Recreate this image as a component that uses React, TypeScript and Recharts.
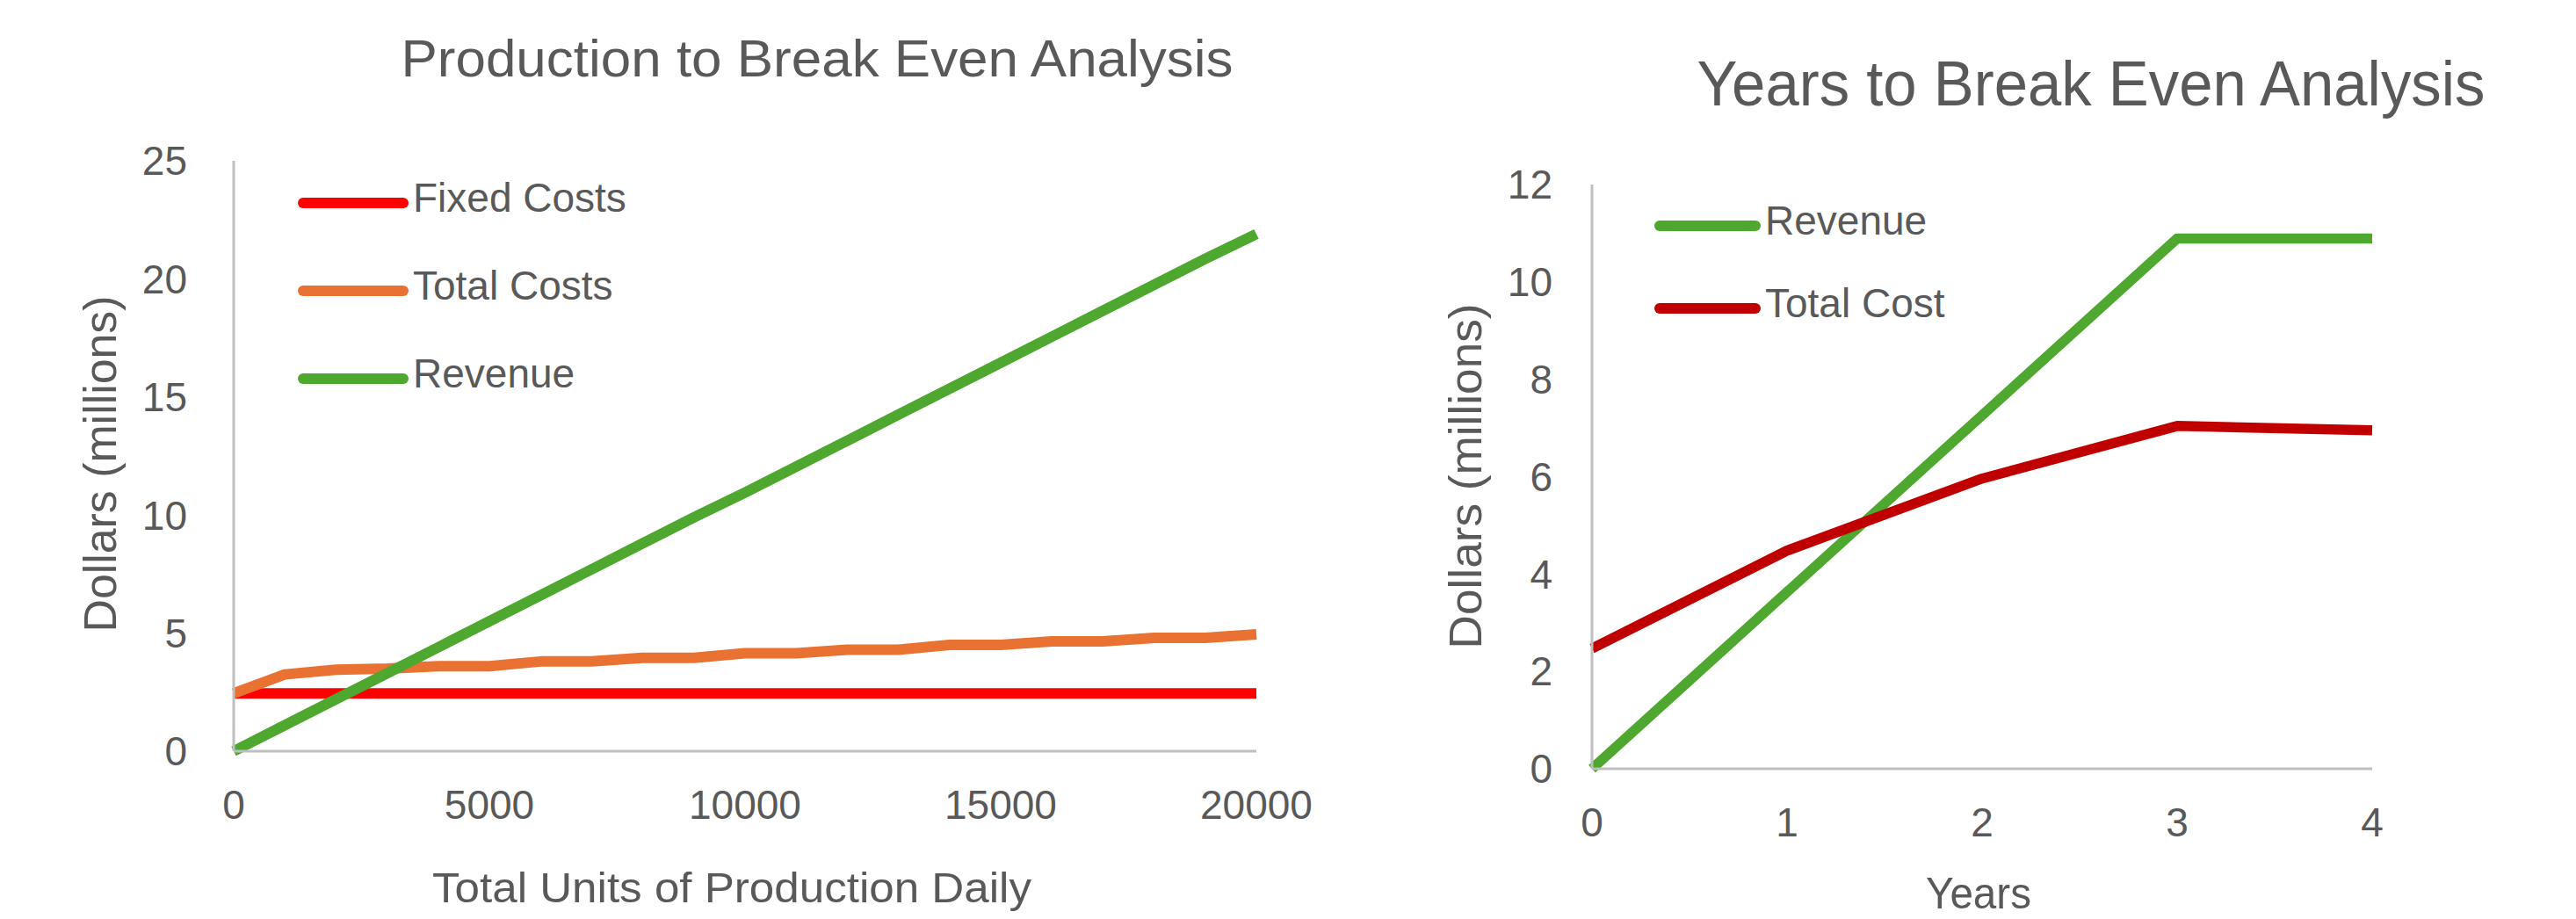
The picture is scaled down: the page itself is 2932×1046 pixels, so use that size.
import { LineChart, Line, XAxis, YAxis, Legend } from "recharts";

// Production break-even (values in $ millions)
const unitsDaily = [
  0, 1000, 2000, 3000, 4000, 5000, 6000, 7000, 8000, 9000, 10000, 11000, 12000,
  13000, 14000, 15000, 16000, 17000, 18000, 19000, 20000,
];
const fixedCosts = [
  2.45, 2.45, 2.45, 2.45, 2.45, 2.45, 2.45, 2.45, 2.45, 2.45, 2.45, 2.45, 2.45,
  2.45, 2.45, 2.45, 2.45, 2.45, 2.45, 2.45, 2.45,
];
const totalCosts = [
  2.45, 3.25, 3.45, 3.5, 3.6, 3.6, 3.8, 3.8, 3.95, 3.95, 4.15, 4.15, 4.3, 4.3,
  4.5, 4.5, 4.65, 4.65, 4.8, 4.8, 4.95,
];
const productionRevenue = [
  0, 1.1, 2.2, 3.3, 4.4, 5.5, 6.6, 7.7, 8.8, 9.9, 10.95, 12.05, 13.15, 14.25,
  15.35, 16.45, 17.55, 18.65, 19.75, 20.85, 21.9,
];
const productionTicksX = [0, 5000, 10000, 15000, 20000];
const productionTicksY = [0, 5, 10, 15, 20, 25];
const productionSeries = ["Fixed Costs", "Total Costs", "Revenue"];

// Years break-even
const years = [0, 1, 2, 3, 4];
const yearRevenue = [0, 3.63, 7.26, 10.89, 10.89];
const yearTotalCost = [2.47, 4.48, 5.96, 7.04, 6.95];
const yearTicksY = [0, 2, 4, 6, 8, 10, 12];
const yearSeries = ["Revenue", "Total Cost"];

const productionData = unitsDaily.map((units, i) => ({
  units,
  fixed: fixedCosts[i],
  total: totalCosts[i],
  revenue: productionRevenue[i],
}));

const yearData = years.map((year, i) => ({
  year,
  revenue: yearRevenue[i],
  cost: yearTotalCost[i],
}));

const FONT = "'Liberation Sans', Arial, sans-serif";
const TEXT = "#595959";
const AXIS = "#BFBFBF";

const tickStyle = { fill: TEXT, fontSize: 46, fontFamily: FONT };

// legend rows keep the series order instead of the library's alphabetical sort
function makeLegend(order: string[], rowHeight: number, lineLength: number) {
  return function LegendList({ payload }: any) {
    const items = [...(payload || [])].sort(
      (a: any, b: any) => order.indexOf(a.value) - order.indexOf(b.value)
    );
    return (
      <div style={{ display: "flex", flexDirection: "column" }}>
        {items.map((entry: any) => (
          <div
            key={entry.value}
            style={{ display: "flex", alignItems: "center", height: rowHeight }}
          >
            <svg width={lineLength} height={14} style={{ display: "block" }}>
              <line
                x1={6}
                x2={lineLength - 6}
                y1={7}
                y2={7}
                stroke={entry.color}
                strokeWidth={12}
                strokeLinecap="round"
              />
            </svg>
            <span
              style={{
                fontFamily: FONT,
                fontSize: 46,
                color: TEXT,
                marginLeft: 5,
                position: "relative",
                top: -6,
                whiteSpace: "nowrap",
              }}
            >
              {entry.value}
            </span>
          </div>
        ))}
      </div>
    );
  };
}

const ProductionLegend = makeLegend(productionSeries, 100, 126);
const YearsLegend = makeLegend(yearSeries, 94, 121);

export default function App() {
  return (
    <div
      style={{
        position: "absolute",
        left: 0,
        top: 0,
        width: 2932,
        height: 1046,
        background: "#ffffff",
        overflow: "hidden",
      }}
    >
      <div style={{ position: "absolute", left: 0, top: 0 }}>
        <LineChart
          width={1540}
          height={1046}
          data={productionData}
          margin={{ top: 183, right: 110, bottom: 91, left: 166 }}
        >
          <XAxis
            dataKey="units"
            type="number"
            domain={[0, 20000]}
            ticks={productionTicksX}
            interval={0}
            height={100}
            axisLine={{ stroke: AXIS, strokeWidth: 3 }}
            tickLine={false}
            tickSize={0}
            tickMargin={44}
            tick={tickStyle}
          />
          <YAxis
            type="number"
            domain={[0, 25]}
            ticks={productionTicksY}
            interval={0}
            width={100}
            axisLine={{ stroke: AXIS, strokeWidth: 3 }}
            tickLine={false}
            tickSize={0}
            tickMargin={53}
            tick={tickStyle}
          />
          <Legend
            layout="vertical"
            align="center"
            verticalAlign="middle"
            content={ProductionLegend}
            wrapperStyle={{ left: 339, top: 181, width: "auto", height: "auto" }}
          />
          <Line
            name="Fixed Costs"
            dataKey="fixed"
            stroke="#FF0000"
            strokeWidth={12}
            strokeLinejoin="round"
            dot={false}
            activeDot={false}
            isAnimationActive={false}
          />
          <Line
            name="Total Costs"
            dataKey="total"
            stroke="#E97132"
            strokeWidth={12}
            strokeLinejoin="round"
            dot={false}
            activeDot={false}
            isAnimationActive={false}
          />
          <Line
            name="Revenue"
            dataKey="revenue"
            stroke="#4EA72E"
            strokeWidth={12}
            strokeLinejoin="round"
            dot={false}
            activeDot={false}
            isAnimationActive={false}
          />
        </LineChart>
      </div>

      <div style={{ position: "absolute", left: 1500, top: 0 }}>
        <LineChart
          width={1432}
          height={1046}
          data={yearData}
          margin={{ top: 210, right: 232, bottom: 71, left: 212 }}
        >
          <XAxis
            dataKey="year"
            type="number"
            domain={[0, 4]}
            ticks={years}
            interval={0}
            height={100}
            axisLine={{ stroke: AXIS, strokeWidth: 3 }}
            tickLine={false}
            tickSize={0}
            tickMargin={44}
            tick={tickStyle}
          />
          <YAxis
            type="number"
            domain={[0, 12]}
            ticks={yearTicksY}
            interval={0}
            width={100}
            axisLine={{ stroke: AXIS, strokeWidth: 3 }}
            tickLine={false}
            tickSize={0}
            tickMargin={45}
            tick={tickStyle}
          />
          <Legend
            layout="vertical"
            align="center"
            verticalAlign="middle"
            content={YearsLegend}
            wrapperStyle={{ left: 383, top: 210, width: "auto", height: "auto" }}
          />
          <Line
            name="Revenue"
            dataKey="revenue"
            stroke="#4EA72E"
            strokeWidth={11.5}
            strokeLinejoin="round"
            dot={false}
            activeDot={false}
            isAnimationActive={false}
          />
          <Line
            name="Total Cost"
            dataKey="cost"
            stroke="#C00000"
            strokeWidth={11.5}
            strokeLinejoin="round"
            dot={false}
            activeDot={false}
            isAnimationActive={false}
          />
        </LineChart>
      </div>

      {/* titles and axis titles */}
      <svg
        width={2932}
        height={1046}
        style={{ position: "absolute", left: 0, top: 0, pointerEvents: "none" }}
        fontFamily={FONT}
        fill={TEXT}
      >
        <text x={930} y={87} fontSize={60} textAnchor="middle" textLength={947} lengthAdjust="spacingAndGlyphs">
          Production to Break Even Analysis
        </text>
        <text x={2380} y={120} fontSize={73} textAnchor="middle" textLength={897} lengthAdjust="spacingAndGlyphs">
          Years to Break Even Analysis
        </text>
        <text x={833} y={1027} fontSize={48} textAnchor="middle" textLength={682} lengthAdjust="spacingAndGlyphs">
          Total Units of Production Daily
        </text>
        <text x={2252} y={1034} fontSize={50} textAnchor="middle" textLength={120} lengthAdjust="spacingAndGlyphs">
          Years
        </text>
        <text
          x={0}
          y={0}
          fontSize={52}
          textAnchor="middle"
          textLength={383}
          lengthAdjust="spacingAndGlyphs"
          transform="translate(132 528) rotate(-90)"
        >
          Dollars (millions)
        </text>
        <text
          x={0}
          y={0}
          fontSize={52}
          textAnchor="middle"
          textLength={393}
          lengthAdjust="spacingAndGlyphs"
          transform="translate(1686 542) rotate(-90)"
        >
          Dollars (millions)
        </text>
      </svg>
    </div>
  );
}
